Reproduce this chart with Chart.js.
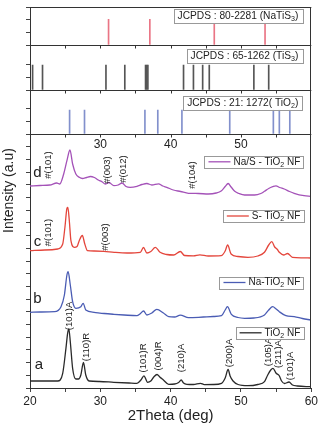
<!DOCTYPE html>
<html>
<head>
<meta charset="utf-8">
<script src="https://cdn.jsdelivr.net/npm/chart.js@4/dist/chart.umd.min.js"></script>
<style>
  html, body { margin: 0; padding: 0; background: #fff; }
  #wrap { width: 320px; height: 425px; position: relative; }
</style>
</head>
<body>
<div id="wrap"><canvas id="xrd"></canvas></div>
<script>
// reference stick patterns (2theta, deg) and relative intensity
const naTiS3Pos = [31.17, 37.04, 46.2, 53.42];
const tiS3Pos = [20.37, 21.78, 30.8, 33.48, 36.43, 36.58, 36.76, 41.83, 43.24, 44.55, 45.49, 51.83, 53.94];
const tio2RefPos = [25.63, 27.75, 36.34, 38.17, 41.6, 48.4, 54.6, 55.45, 56.94];
const stickHeight = 100;

// measured XRD curves (2theta, intensity a.u., offset stacked)
const aX = [20, 22.1, 23.94, 24.65, 25.11, 25.35, 25.52, 25.73, 26.06, 26.52, 26.9, 27.23, 27.6, 27.93, 28.41, 29.86, 31.93, 34.08, 35.21, 35.77, 36.2, 36.72, 37.18, 37.6, 38.06, 38.45, 38.97, 39.72, 40.56, 41.13, 41.5, 41.83, 42.3, 43.24, 44.23, 44.79, 46.06, 47.23, 47.75, 48.17, 48.45, 48.87, 49.58, 50.99, 52.39, 53.34, 53.8, 54.23, 54.55, 54.97, 55.42, 55.77, 56.2, 56.83, 57.32, 58.03, 59.9];
const aY = [7, 7, 7, 14.7, 39.7, 54.7, 59.2, 46.3, 19.7, 9, 9, 13, 25.5, 13, 7, 6.5, 5.7, 5, 4.7, 8, 12.2, 5.7, 7, 11, 13.5, 11, 8, 3.7, 4, 5.5, 8, 5, 3.7, 3.5, 4.7, 3.4, 3.5, 4.7, 10, 18.5, 12, 7, 3.5, 2.3, 3.5, 6.3, 13, 18, 19.7, 15, 12.5, 7, 4.5, 6, 3, 2, 1.3];

const bX = [20, 21.41, 23.48, 24.41, 24.89, 25.25, 25.42, 25.73, 26.06, 26.52, 27.23, 27.56, 27.93, 29.11, 30.56, 31.93, 33.38, 35.21, 35.63, 36.15, 36.62, 37.32, 38.03, 38.97, 39.72, 40.56, 41.37, 42.54, 44.65, 46.06, 47.23, 47.75, 48.07, 48.63, 49.58, 50.52, 51.83, 53.34, 53.94, 54.51, 55, 55.45, 56.38, 57.56, 58.73, 59.9];
const bY = [75.7, 76, 76.3, 81.3, 93, 113, 116.3, 103, 86.3, 79.7, 81.3, 84.7, 78, 75.7, 74.5, 73.7, 73, 72.3, 74, 77, 73, 75, 78.7, 75, 71.3, 71, 72.8, 70.3, 71, 71.5, 72.3, 78, 81.3, 73.7, 70.5, 69.7, 70, 73, 78, 81.3, 79, 76.3, 72.3, 71.3, 69.5, 68];

const cX = [20, 22.11, 23.94, 24.65, 24.97, 25.25, 25.38, 25.59, 25.82, 26.3, 26.69, 27, 27.44, 27.79, 28.17, 29.15, 30.52, 31.97, 33.8, 35.68, 36.13, 36.62, 37.18, 37.82, 38.49, 39.44, 40.42, 41.37, 41.97, 43.24, 44.15, 45.35, 47.18, 47.75, 48.1, 48.59, 49.58, 50.99, 52.39, 53.34, 53.94, 54.37, 54.79, 55.14, 55.49, 56.06, 56.62, 57.32, 58.73, 59.9];
const cY = [137.3, 138, 139, 144, 161, 179.5, 180.5, 167.3, 147.3, 140.7, 141.5, 147.3, 152.5, 144, 137.3, 137, 136.7, 135.7, 135, 135.7, 140.5, 135, 136.5, 140.7, 135.7, 133.5, 133, 136.5, 132.5, 132.2, 133.2, 132, 132.3, 137, 143, 134, 131.5, 130.7, 132, 135.7, 143, 146.3, 141, 138.7, 135.5, 133, 134.5, 130.7, 130.2, 130];

const dX = [20, 21.41, 22.82, 23.8, 24.23, 24.79, 25.25, 25.68, 26.06, 26.52, 27, 27.46, 28.03, 28.59, 29.15, 29.72, 30.28, 30.7, 31.23, 31.93, 32.54, 33.1, 33.66, 34.23, 35.21, 35.92, 36.62, 37.32, 38.27, 38.87, 39.44, 40.38, 41.41, 42.54, 43.94, 45.35, 46.48, 47.18, 47.75, 48.17, 48.59, 49.11, 49.72, 50.52, 51.93, 52.82, 53.34, 53.94, 54.51, 54.97, 55.49, 56.15, 56.9, 57.56, 58.97, 59.9];
const dY = [202, 202.5, 203, 205, 204, 214, 227.3, 238, 224, 214, 210.7, 209.5, 210.5, 211.5, 210.5, 208, 206, 204, 205.5, 202.3, 203, 205, 201.5, 200.7, 201.7, 203.5, 204.5, 203, 204.2, 202, 200.7, 198, 196.5, 194.7, 194.5, 194, 195, 197, 201.5, 204.5, 201, 196.7, 194.5, 193, 193, 194.5, 196.7, 199.5, 201.3, 202.2, 200.5, 199, 196.5, 194.7, 192.3, 191.7];

const xTicks = [20, 30, 40, 50, 60];

const FONT = '"Liberation Sans", Arial, sans-serif';
const col = { a: "#2a2a2a", b: "#4a5cb4", c: "#e4463c", d: "#a452b8" };

// [text, 2theta, y on main axis]
const peakLabels = [
  ["#(101)", 22.58, 223], ["#(003)", 31.03, 218], ["#(012)", 33.24, 219], ["#(104)", 43.1, 213],
  ["#(101)", 22.68, 155.5], ["#(003)", 30.7, 151],
  ["(101)A", 25.63, 72], ["(110)R", 27.99, 41], ["(101)R", 36.1, 30], ["(004)R", 38.21, 32],
  ["(210)A", 41.5, 30], ["(200)A", 48.41, 35], ["(105)A", 53.9, 36], ["(211)A", 55.35, 34], ["(101)A", 57.08, 22]
];
const curveLetters = [["d", 21.06, 215], ["c", 21.06, 146], ["b", 21.06, 89], ["a", 21.27, 23]];
const legendRows = [
  [[["Na/S - TiO"], ["2", 1], [" NF"]], col.d, 226.2],
  [[["S- TiO"], ["2", 1], [" NF"]], col.c, 172],
  [[["Na-TiO"], ["2", 1], [" NF"]], col.b, 105.5],
  [[["TiO"], ["2", 1], [" NF"]], col.a, 55.2]
];
const refBoxes = [
  [[["JCPDS : 80-2281 (NaTiS"], ["3", 1], [")"]], "yNa", 113],
  [[["JCPDS : 65-1262 (TiS"], ["3", 1], [")"]], "yTiS", 135],
  [[["JCPDS : 21: 1272( TiO"], ["2", 1], [")"]], "yTiO", 130]
];

function pts(xs, ys) { return xs.map((x, i) => ({ x: x, y: ys[i] })); }
function sticks(xs) { return xs.map(x => ({ x: x, y: stickHeight })); }

function richWidth(ctx, parts, size) {
  let w = 0;
  parts.forEach(p => { ctx.font = (p[1] ? size * 0.7 : size) + "px " + FONT; w += ctx.measureText(p[0]).width; });
  return w;
}
function drawRich(ctx, parts, x, y, size) {
  let cx = x;
  ctx.textAlign = "left";
  ctx.textBaseline = "middle";
  parts.forEach(p => {
    const s = p[1] ? size * 0.7 : size;
    ctx.font = s + "px " + FONT;
    ctx.fillText(p[0], cx, p[1] ? y + size * 0.3 : y);
    cx += ctx.measureText(p[0]).width;
  });
}

const decor = {
  id: "decor",
  afterDraw(chart) {
    const { ctx, chartArea: ca, scales } = chart;
    const sx = scales.x, sy = scales.y;
    ctx.save();
    // frame and panel separators
    ctx.strokeStyle = "#333";
    ctx.lineWidth = 1;
    ctx.beginPath();
    ctx.moveTo(ca.left, Math.round(ca.top) + 0.5); ctx.lineTo(ca.right, Math.round(ca.top) + 0.5);
    ctx.moveTo(Math.round(ca.right) - 0.5, ca.top); ctx.lineTo(Math.round(ca.right) - 0.5, ca.bottom);
    ["yNa", "yTiS", "yTiO"].forEach(id => {
      const yb = Math.round(scales[id].bottom) + 0.5;
      ctx.moveTo(ca.left, yb); ctx.lineTo(ca.right, yb);
      for (let v = 25; v < 60; v += 5) {
        const px = Math.round(sx.getPixelForValue(v)) + 0.5;
        ctx.moveTo(px, yb); ctx.lineTo(px, yb + 3);
      }
    });
    ctx.stroke();

    ctx.fillStyle = "#222";
    // top labels of main panel
    ctx.font = "12px " + FONT;
    ctx.textAlign = "center";
    ctx.textBaseline = "middle";
    [30, 40, 50].forEach(v => ctx.fillText(String(v), sx.getPixelForValue(v), sy.getPixelForValue(243)));

    // curve letters
    ctx.font = "15px " + FONT;
    curveLetters.forEach(l => ctx.fillText(l[0], sx.getPixelForValue(l[1]), sy.getPixelForValue(l[2])));

    // rotated peak labels
    ctx.font = "9.5px " + FONT;
    peakLabels.forEach(l => {
      ctx.save();
      ctx.translate(sx.getPixelForValue(l[1]), sy.getPixelForValue(l[2]));
      ctx.rotate(-Math.PI / 2);
      ctx.fillText(l[0], 0, 0);
      ctx.restore();
    });

    // legend boxes
    legendRows.forEach(r => {
      const size = 10;
      const tw = richWidth(ctx, r[0], size);
      const right = ca.right - 8;
      const lineLen = 22;
      const w = tw + lineLen + 10;
      const cy = sy.getPixelForValue(r[2]);
      const left = right - w;
      ctx.fillStyle = "#fff";
      ctx.fillRect(left, cy - 6, w, 12);
      ctx.strokeStyle = "#999";
      ctx.strokeRect(Math.round(left) + 0.5, Math.round(cy - 6) + 0.5, Math.round(w), 12);
      ctx.strokeStyle = r[1];
      ctx.lineWidth = 1.3;
      ctx.beginPath();
      ctx.moveTo(left + 4, cy); ctx.lineTo(left + 4 + lineLen, cy);
      ctx.stroke();
      ctx.lineWidth = 1;
      ctx.fillStyle = "#222";
      drawRich(ctx, r[0], left + 7 + lineLen, cy, size);
    });

    // reference boxes
    refBoxes.forEach(r => {
      const size = 10.2;
      const tw = richWidth(ctx, r[0], size);
      const right = ca.right - 9;
      const w = tw + 8;
      const cy = scales[r[1]].getPixelForValue(r[2]);
      const left = right - w;
      ctx.fillStyle = "#fff";
      ctx.fillRect(left, cy - 7, w, 14);
      ctx.strokeStyle = "#999";
      ctx.strokeRect(Math.round(left) + 0.5, Math.round(cy - 7) + 0.5, Math.round(w), 14);
      ctx.fillStyle = "#222";
      drawRich(ctx, r[0], left + 4, cy, size);
    });

    // y axis title
    ctx.save();
    ctx.font = "14px " + FONT;
    ctx.textAlign = "center";
    ctx.textBaseline = "middle";
    ctx.translate(9, (ca.top + ca.bottom) / 2 - 7);
    ctx.rotate(-Math.PI / 2);
    ctx.fillText("Intensity (a.u)", 0, 0);
    ctx.restore();
    ctx.restore();
  }
};

function yAxis(weight, stackWeight, max, step) {
  return {
    type: "linear",
    position: "left",
    stack: "panels",
    stackWeight: stackWeight,
    weight: weight,
    min: 0,
    max: max,
    ticks: { display: false, stepSize: step },
    grid: { drawOnChartArea: false, drawTicks: true, tickLength: 4, color: "#444" },
    border: { display: true, color: "#333" },
    afterFit: s => { s.width = 30; }
  };
}

new Chart(document.getElementById("xrd"), {
  type: "line",
  data: {
    datasets: [
      { type: "bar", data: sticks(naTiS3Pos), yAxisID: "yNa", backgroundColor: "#ea7585", barThickness: 1, stack: "ref" },
      { type: "bar", data: sticks(tiS3Pos), yAxisID: "yTiS", backgroundColor: "#555", barThickness: 1, stack: "ref" },
      { type: "bar", data: sticks(tio2RefPos), yAxisID: "yTiO", backgroundColor: "#8290cc", barThickness: 1, stack: "ref" },
      { label: "TiO2 NF", data: pts(aX, aY), borderColor: col.a, yAxisID: "y" },
      { label: "Na-TiO2 NF", data: pts(bX, bY), borderColor: col.b, yAxisID: "y" },
      { label: "S- TiO2 NF", data: pts(cX, cY), borderColor: col.c, yAxisID: "y" },
      { label: "Na/S - TiO2 NF", data: pts(dX, dY), borderColor: col.d, yAxisID: "y" }
    ]
  },
  options: {
    responsive: true,
    maintainAspectRatio: false,
    animation: false,
    layout: { padding: { left: 0, right: 6, top: 7, bottom: 0 } },
    elements: {
      point: { radius: 0 },
      line: { borderWidth: 1.3, cubicInterpolationMode: "monotone", fill: false }
    },
    plugins: { legend: { display: false }, tooltip: { enabled: false } },
    scales: {
      x: {
        type: "linear",
        position: "bottom",
        min: 20,
        max: 60,
        offset: false,
        ticks: {
          stepSize: 5,
          autoSkip: false,
          maxRotation: 0,
          padding: 2,
          color: "#222",
          font: { family: FONT, size: 12 },
          callback: v => (xTicks.includes(v) ? String(v) : "")
        },
        grid: { drawOnChartArea: false, offset: false, tickLength: 4, color: "#444" },
        border: { display: true, color: "#333" },
        title: { display: true, text: "2Theta (deg)", color: "#222", font: { family: FONT, size: 15 }, padding: { top: 0, bottom: 0 } },
        afterFit: s => { s.height = 37; }
      },
      yNa: yAxis(4, 38, 148, 49.3),
      yTiS: yAxis(3, 45, 180, 52),
      yTiO: yAxis(2, 44, 183, 53),
      y: yAxis(1, 254, 254, 12.7)
    }
  },
  plugins: [decor]
});
</script>
</body>
</html>
